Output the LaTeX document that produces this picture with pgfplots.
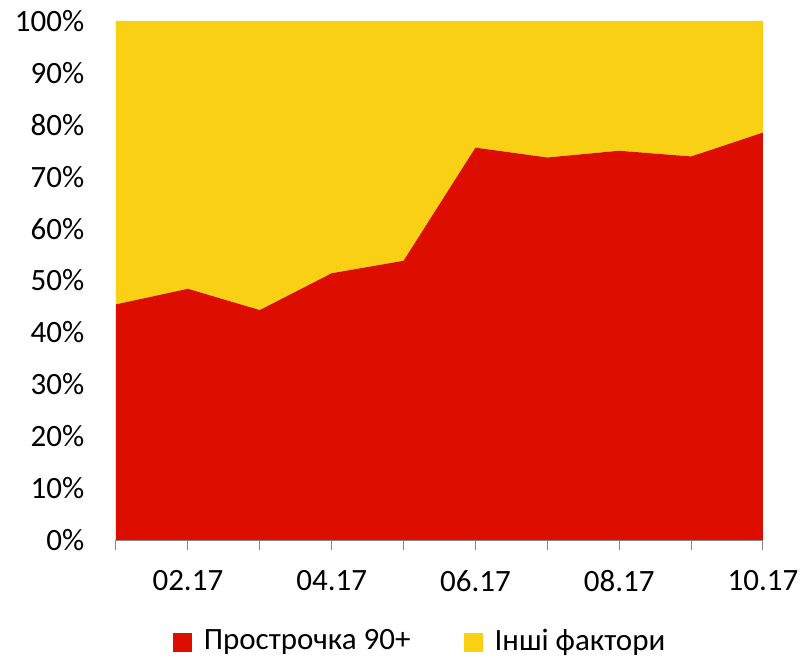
\documentclass[border=0pt]{standalone}
\usepackage{pgfplots}
\pgfplotsset{compat=1.18}
\usepackage{fontspec}
\setmainfont{Carlito}

\definecolor{overdue}{RGB}{221,14,0}
\definecolor{other}{RGB}{249,208,19}
\definecolor{axisgray}{RGB}{134,134,134}

\pgfplotstableread{
m  overdue other
1  45.4  54.6
2  48.4  51.6
3  44.3  55.7
4  51.4  48.6
5  53.8  46.2
6  75.6  24.4
7  73.7  26.3
8  75.0  25.0
9  73.9  26.1
10 78.5  21.5
}\shares

\begin{document}
\fontsize{15.5}{18}\selectfont
\begin{tikzpicture}
\useasboundingbox (-58pt,-59pt) rectangle (343pt,270pt);
\begin{axis}[
  at={(0pt,0pt)}, anchor=south west,
  scale only axis,
  width=323.5pt, height=259.5pt,
  xmin=1, xmax=10, ymin=0, ymax=100,
  stack plots=y,
  area style,
  axis lines*=left,
  x axis line style={draw=axisgray, line width=0.5pt},
  y axis line style={draw=none},
  xtick={1,...,10},
  xticklabels={,02.17,,04.17,,06.17,,08.17,,10.17},
  xtick style={draw=axisgray, line width=0.5pt},
  tick align=outside,
  major tick length=5pt,
  ytick={0,10,...,100},
  yticklabels={0\%,10\%,20\%,30\%,40\%,50\%,60\%,70\%,80\%,90\%,100\%},
  ytick style={draw=none},
  yticklabel style={anchor=east, xshift=-5.5pt},
  xticklabel style={anchor=north, yshift=-5pt},
  tick label style={font=\fontsize{15.5}{18}\selectfont},
  /pgf/number format/assume math mode=true,
  legend columns=2,
  legend style={
    at={(0.4715,-0.197)}, anchor=center, draw=none, fill=none,
    font=\fontsize{15.5}{18}\selectfont,
    /tikz/every odd column/.append style={column sep=4pt},
    /tikz/every even column/.append style={column sep=24.5pt},
    inner sep=0pt,
  },
  legend image code/.code={\fill[#1] (0pt,-4.75pt) rectangle (9.5pt,4.75pt);},
  axis on top,
]
\addplot[fill=overdue, draw=none] table[x=m, y=overdue] {\shares} \closedcycle;
\addlegendentry{Прострочка 90+}
\addplot[fill=other, draw=none] table[x=m, y=other] {\shares} \closedcycle;
\addlegendentry{Інші фактори}
\end{axis}
\end{tikzpicture}
\end{document}
